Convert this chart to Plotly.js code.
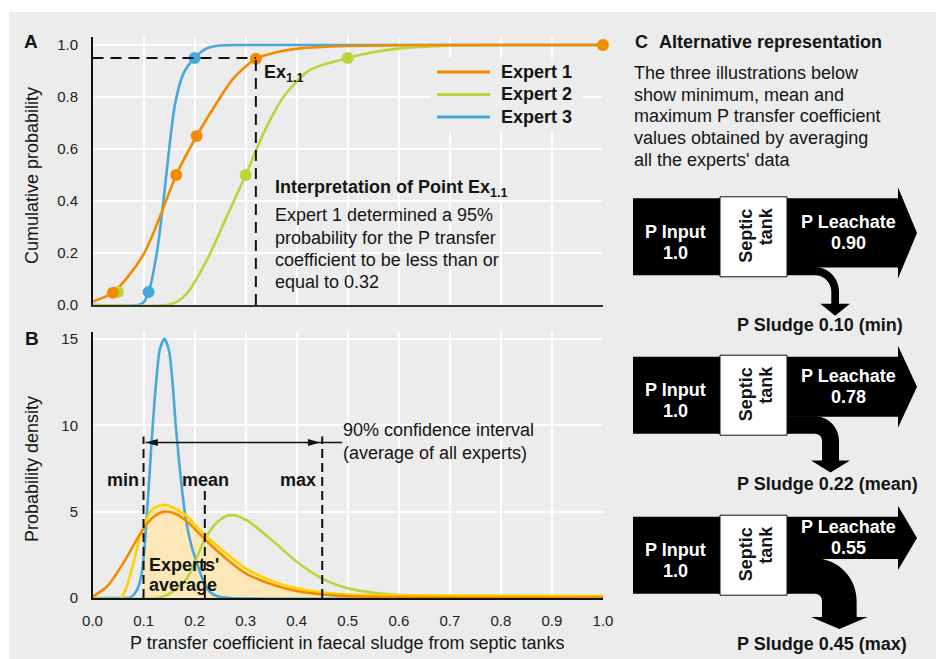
<!DOCTYPE html>
<html><head><meta charset="utf-8">
<script src="https://cdn.plot.ly/plotly-3.0.1.min.js"></script>
<style>html,body{margin:0;padding:0;background:#fff;}#chart{width:936px;height:659px;}</style>
</head><body><div id="chart"></div>
<script>
// ---------- DATA ----------
// Panel A: cumulative probability curves
const expertNames = ['Expert 1', 'Expert 2', 'Expert 3'];
const cdfX1 = [0, 0.04, 0.07, 0.1, 0.12, 0.14, 0.164, 0.204, 0.243, 0.276, 0.32, 0.36, 0.407, 0.5, 0.6, 0.8, 1.0];
const cdfY1 = [0.013, 0.047, 0.11, 0.195, 0.28, 0.38, 0.5, 0.65, 0.776, 0.872, 0.947, 0.972, 0.987, 0.996, 0.999, 1.0, 1.0];
const cdfX2 = [0, 0.145, 0.165, 0.185, 0.224, 0.263, 0.30, 0.335, 0.374, 0.426, 0.5, 0.55, 0.603, 0.7, 0.8, 1.0];
const cdfY2 = [0, 0, 0.012, 0.045, 0.173, 0.34, 0.5, 0.66, 0.80, 0.904, 0.95, 0.972, 0.987, 0.997, 1.0, 1.0];
const cdfX3 = [0, 0.09, 0.1, 0.11, 0.126, 0.139, 0.149, 0.162, 0.178, 0.2, 0.224, 0.25, 0.3, 1.0];
const cdfY3 = [0, 0, 0.01, 0.05, 0.2, 0.40, 0.58, 0.776, 0.89, 0.95, 0.987, 0.998, 1.0, 1.0];
// Panel A: elicited points
const ptX1 = [0.04, 0.164, 0.204, 0.32, 1.0];
const ptY1 = [0.047, 0.5, 0.65, 0.947, 1.0];
const ptX2 = [0.05, 0.30, 0.50];
const ptY2 = [0.05, 0.5, 0.95];
const ptX3 = [0.11, 0.20];
const ptY3 = [0.05, 0.95];
// Panel A: point Ex1.1
const exX = 0.32, exY = 0.95;

// Panel B: probability density curves
const pdfX1 = [0, 0.028, 0.06, 0.1, 0.12, 0.14, 0.165, 0.19, 0.22, 0.257, 0.30, 0.355, 0.40, 0.45, 0.5, 0.6, 0.7, 1.0];
const pdfY1 = [0.08, 0.65, 2.0, 4.03, 4.7, 5.0, 4.85, 4.3, 3.4, 2.4, 1.43, 0.75, 0.4, 0.2, 0.1, 0.05, 0.03, 0.02];
const pdfX2 = [0, 0.126, 0.152, 0.185, 0.22, 0.243, 0.27, 0.302, 0.355, 0.40, 0.453, 0.5, 0.55, 0.6, 0.7, 1.0];
const pdfY2 = [0, 0, 0.27, 1.14, 3.4, 4.36, 4.8, 4.5, 3.26, 2.1, 1.08, 0.56, 0.3, 0.17, 0.12, 0.1];
const pdfX3 = [0, 0.06, 0.075, 0.087, 0.095, 0.1, 0.106, 0.112, 0.118, 0.125, 0.132, 0.141, 0.15, 0.157, 0.163, 0.17, 0.178, 0.185, 0.195, 0.207, 0.217, 0.23, 0.245, 0.27, 1.0];
const pdfY3 = [0, 0, 0.05, 0.46, 1.2, 2.3, 4.6, 7.3, 10, 12.6, 14.4, 15, 14.3, 12.4, 10, 7.8, 5.6, 4.2, 2.9, 1.8, 1.0, 0.35, 0.1, 0, 0];
const avgX = [0.057, 0.067, 0.08, 0.09, 0.1, 0.116, 0.14, 0.178, 0.22, 0.257, 0.30, 0.355, 0.40, 0.45, 0.5, 0.6, 0.8, 1.0];
const avgY = [0, 0.65, 2.0, 3.2, 4.1, 5.1, 5.4, 4.9, 3.65, 2.7, 1.72, 0.95, 0.56, 0.31, 0.2, 0.15, 0.13, 0.12];

// Panel C / interval values
const inputP = 1.0;
const leachateP = [0.90, 0.78, 0.55];
const sludgeP = [0.10, 0.22, 0.45];
const sludgeTag = ['min', 'mean', 'max'];
const intervalLabels = ['min', 'mean', 'max'];
const ciLevel = 9; // height of the 90% interval arrow (density units)

// ---------- STYLE ----------
const FONT = 'Liberation Sans, Arial, Helvetica, sans-serif';
const C1 = '#f18c00', C2 = '#bcd43c', C3 = '#47a8de', CAVG = '#ffd200', CFILL = '#fce7b8';
const expertColors = [C1, C2, C3];
const W = 936, HF = 659;
const px = x => x / W, py = y => 1 - y / HF;
const pt = (x, y) => `${px(x)},${py(y)}`;

function note(text, x, y, o) {
  o = o || {};
  return {xref: 'paper', yref: 'paper', x: px(x), y: py(y), text: text, showarrow: false,
    xanchor: o.xa || 'left', yanchor: 'middle', textangle: o.rot || 0,
    font: {family: FONT, size: o.size || 18, color: o.color || '#151515'}};
}

const lw = 2.6;
const traces = [
  {x: cdfX3, y: cdfY3, name: expertNames[2], mode: 'lines', line: {color: C3, width: lw, shape: 'spline', smoothing: 0.8}, xaxis: 'x', yaxis: 'y'},
  {x: cdfX2, y: cdfY2, name: expertNames[1], mode: 'lines', line: {color: C2, width: lw, shape: 'spline', smoothing: 0.8}, xaxis: 'x', yaxis: 'y'},
  {x: cdfX1, y: cdfY1, name: expertNames[0], mode: 'lines', line: {color: C1, width: lw, shape: 'spline', smoothing: 0.8}, xaxis: 'x', yaxis: 'y'},
  {x: ptX2, y: ptY2, mode: 'markers', cliponaxis: false, marker: {color: C2, size: 12}, xaxis: 'x', yaxis: 'y'},
  {x: ptX3, y: ptY3, mode: 'markers', cliponaxis: false, marker: {color: C3, size: 12}, xaxis: 'x', yaxis: 'y'},
  {x: ptX1, y: ptY1, mode: 'markers', cliponaxis: false, marker: {color: C1, size: 12}, xaxis: 'x', yaxis: 'y'}
];
// Panel B
const ciMin = sludgeP[0], ciMax = sludgeP[2];
const fillX = [], fillY = [];
avgX.forEach((v, i) => { if (v >= ciMin && v <= ciMax) { fillX.push(v); fillY.push(avgY[i]); } });
traces.push(
  {x: fillX, y: fillY, mode: 'lines', fill: 'tozeroy', fillcolor: CFILL, line: {width: 0, shape: 'spline', smoothing: 0.8}, xaxis: 'x2', yaxis: 'y2'},
  {x: pdfX3, y: pdfY3, mode: 'lines', line: {color: C3, width: lw, shape: 'spline', smoothing: 0.7}, xaxis: 'x2', yaxis: 'y2'},
  {x: pdfX2, y: pdfY2, mode: 'lines', line: {color: C2, width: lw, shape: 'spline', smoothing: 0.8}, xaxis: 'x2', yaxis: 'y2'},
  {x: avgX, y: avgY, mode: 'lines', line: {color: CAVG, width: lw, shape: 'spline', smoothing: 0.8}, xaxis: 'x2', yaxis: 'y2'},
  {x: pdfX1, y: pdfY1, mode: 'lines', line: {color: C1, width: lw, shape: 'spline', smoothing: 0.8}, xaxis: 'x2', yaxis: 'y2'}
);
traces.forEach(t => t.showlegend = false);

// ---------- SHAPES ----------
const shapes = [];
shapes.push({type: 'rect', xref: 'paper', yref: 'paper', x0: px(9), x1: px(936), y0: py(12), y1: py(659), fillcolor: '#ececec', line: {width: 0}, layer: 'below'});
// Panel A dashed guides to Ex1.1
shapes.push({type: 'line', xref: 'x', yref: 'y', x0: 0, x1: exX, y0: exY, y1: exY, line: {color: '#111', width: 2, dash: '11px,7px'}});
shapes.push({type: 'line', xref: 'x', yref: 'y', x0: exX, x1: exX, y0: 0, y1: exY, line: {color: '#111', width: 2, dash: '11px,7px'}});
// Legend (panel A): background box, swatches
shapes.push({type: 'rect', xref: 'paper', yref: 'paper', x0: px(430), x1: px(582), y0: py(58), y1: py(132), fillcolor: '#ececec', line: {width: 0}, layer: 'above'});
const legY = [72, 94.5, 117];
expertNames.forEach((n, i) => shapes.push({type: 'line', xref: 'paper', yref: 'paper', x0: px(437), x1: px(490), y0: py(legY[i]), y1: py(legY[i]), line: {color: expertColors[i], width: 3}}));
// Panel B dashed lines (min / mean / max)
const dashTop = [9.35, 6.25, 9.35];
sludgeP.forEach((v, i) => shapes.push({type: 'line', xref: 'x2', yref: 'y2', x0: v, x1: v, y0: 0, y1: dashTop[i], line: {color: '#111', width: 2, dash: '9px,5px'}}));
// 90% interval double arrow
shapes.push({type: 'line', xref: 'x2', yref: 'y2', x0: 0.104, x1: 0.489, y0: ciLevel, y1: ciLevel, line: {color: '#111', width: 1.5}});
shapes.push({type: 'path', xref: 'x2', yref: 'y2', fillcolor: '#111', line: {width: 0},
  path: `M0.104,${ciLevel} L0.128,${ciLevel + 0.2} L0.128,${ciLevel - 0.2} Z`});
shapes.push({type: 'path', xref: 'x2', yref: 'y2', fillcolor: '#111', line: {width: 0},
  path: `M0.446,${ciLevel} L0.422,${ciLevel + 0.2} L0.422,${ciLevel - 0.2} Z`});

// Panel C flow diagrams
const diagTop = [198.3, 356.7, 516.7];
const HP = 77, inL = 633, boxL = 720, boxR = 787, headX = 898, tipX = 917, cx = 815, K = 0.5523;
const annC = [];
diagTop.forEach((T, i) => {
  const Lh = leachateP[i] / inputP * HP, w = sludgeP[i] / inputP * HP;
  const yb = T + Lh, mid = T + Lh / 2, hh = Lh / 2 + 11;
  shapes.push({type: 'path', xref: 'paper', yref: 'paper', fillcolor: '#000', line: {width: 0},
    path: `M${pt(inL, T)} L${pt(boxR, T)} L${pt(boxR, T + HP)} L${pt(inL, T + HP)} Z`});
  shapes.push({type: 'path', xref: 'paper', yref: 'paper', fillcolor: '#000', line: {width: 0},
    path: `M${pt(boxR - 1, T)} L${pt(headX, T)} L${pt(headX, mid - hh)} L${pt(tipX, mid)} L${pt(headX, mid + hh)} L${pt(headX, yb)} L${pt(boxR - 1, yb)} Z`});
  const r = Math.max(7, 24 - w), R = r + w, cm = cx + r + w / 2, hw = w / 2 + 11, Ab = T + HP + 30 - (w / HP) * 15;
  shapes.push({type: 'path', xref: 'paper', yref: 'paper', fillcolor: '#000', line: {width: 0},
    path: `M${pt(boxR - 1, yb - 0.5)} L${pt(cx, yb - 0.5)} C${pt(cx + K * R, yb - 0.5)} ${pt(cx + R, yb + R - K * R)} ${pt(cx + R, yb + R)} L${pt(cx + R, Ab)} L${pt(cm + hw, Ab)} L${pt(cm, Ab + 12)} L${pt(cm - hw, Ab)} L${pt(cx + r, Ab)} L${pt(cx + r, yb + R)} C${pt(cx + r, yb + R - K * r)} ${pt(cx + K * r, yb + w)} ${pt(cx, yb + w)} L${pt(boxR - 1, yb + w)} Z`});
  shapes.push({type: 'rect', xref: 'paper', yref: 'paper', x0: px(boxL), x1: px(boxR), y0: py(T - 1.5), y1: py(T + HP + 1.5), fillcolor: '#fff', line: {color: '#111', width: 1}});
  annC.push(note('<b>P Input</b>', 675, T + 33.5, {xa: 'center', color: '#fff'}));
  annC.push(note('<b>' + inputP.toFixed(1) + '</b>', 675, T + 54.5, {xa: 'center', color: '#fff'}));
  annC.push(note('<b>P Leachate</b>', 848, mid - 10.5, {xa: 'center', color: '#fff'}));
  annC.push(note('<b>' + leachateP[i].toFixed(2) + '</b>', 848, mid + 10.5, {xa: 'center', color: '#fff'}));
  annC.push(note('<b>Septic</b>', 746, T + 37.5, {xa: 'center', rot: -90}));
  annC.push(note('<b>tank</b>', 766, T + 28, {xa: 'center', rot: -90}));
  annC.push(note('<b>P Sludge ' + sludgeP[i].toFixed(2) + ' (' + sludgeTag[i] + ')</b>', 735, T + HP + 50));
});

// ---------- ANNOTATIONS ----------
const ann = [
  note('<b>A</b>', 31, 41, {xa: 'center', size: 19}),
  note('<b>B</b>', 31.5, 338, {xa: 'center', size: 19}),
  note('Cumulative probability', 32, 176, {xa: 'center', rot: -90}),
  note('Probability density', 32, 469, {xa: 'center', rot: -90}),
  note('P transfer coefficient in faecal sludge from septic tanks', 347.5, 643, {xa: 'center'}),
  note('<b>Ex<sub>1.1</sub></b>', 262, 74),
  note('<b>Interpretation of Point Ex<sub>1.1</sub></b>', 273, 188),
  note('<b>C</b>', 633, 42),
  note('<b>Alternative representation</b>', 657, 42),
  note('90% confidence interval', 341, 430),
  note('(average of all experts)', 341, 453),
  note("<b>Experts'</b>", 147, 565),
  note('<b>average</b>', 147, 585)
];
expertNames.forEach((n, i) => ann.push(note('<b>' + n + '</b>', 499, legY[i])));
['Expert 1 determined a 95%', 'probability for the P transfer', 'coefficient to be less than or', 'equal to 0.32']
  .forEach((s, i) => ann.push(note(s, 273, 215.5 + 22.2 * i)));
['The three illustrations below', 'show minimum, mean and', 'maximum P transfer coefficient', 'values obtained by averaging', "all the experts' data"]
  .forEach((s, i) => ann.push(note(s, 632, 73 + 21.7 * i)));
const labX = [122.5, 205.5, 298];
intervalLabels.forEach((s, i) => ann.push(note('<b>' + s + '</b>', labX[i], 480, {xa: 'center'})));

const axBase = {showgrid: true, gridcolor: '#ffffff', gridwidth: 2, zeroline: false, ticks: '', automargin: false, fixedrange: true,
  tickfont: {family: FONT, size: 15, color: '#222'}};
const layout = {
  width: W, height: HF, margin: {l: 0, r: 0, t: 0, b: 0},
  paper_bgcolor: '#ffffff', plot_bgcolor: 'rgba(0,0,0,0)',
  font: {family: FONT},
  showlegend: false,
  xaxis: Object.assign({}, axBase, {domain: [px(92.5), px(603)], range: [0, 1], dtick: 0.1, tick0: 0, showticklabels: false,
    showline: true, linecolor: '#333', linewidth: 2, anchor: 'y'}),
  yaxis: Object.assign({}, axBase, {domain: [py(305), py(37.2)], range: [0, 1.03], dtick: 0.2, tick0: 0, tickformat: '.1f',
    showline: true, linecolor: '#111', linewidth: 1.5, ticklabelstandoff: 10, anchor: 'x'}),
  xaxis2: Object.assign({}, axBase, {domain: [px(92.5), px(603)], range: [0, 1], dtick: 0.1, tick0: 0, tickformat: '.1f',
    showline: true, linecolor: '#111', linewidth: 2, ticklabelstandoff: 8, anchor: 'y2'}),
  yaxis2: Object.assign({}, axBase, {domain: [py(598), py(332)], range: [0, 15.4], dtick: 5, tick0: 0,
    showline: true, linecolor: '#111', linewidth: 1.5, ticklabelstandoff: 10, anchor: 'x2'}),
  shapes: shapes,
  annotations: ann.concat(annC)
};
Plotly.newPlot('chart', traces, layout, {displayModeBar: false, staticPlot: true});
</script>
</body></html>
